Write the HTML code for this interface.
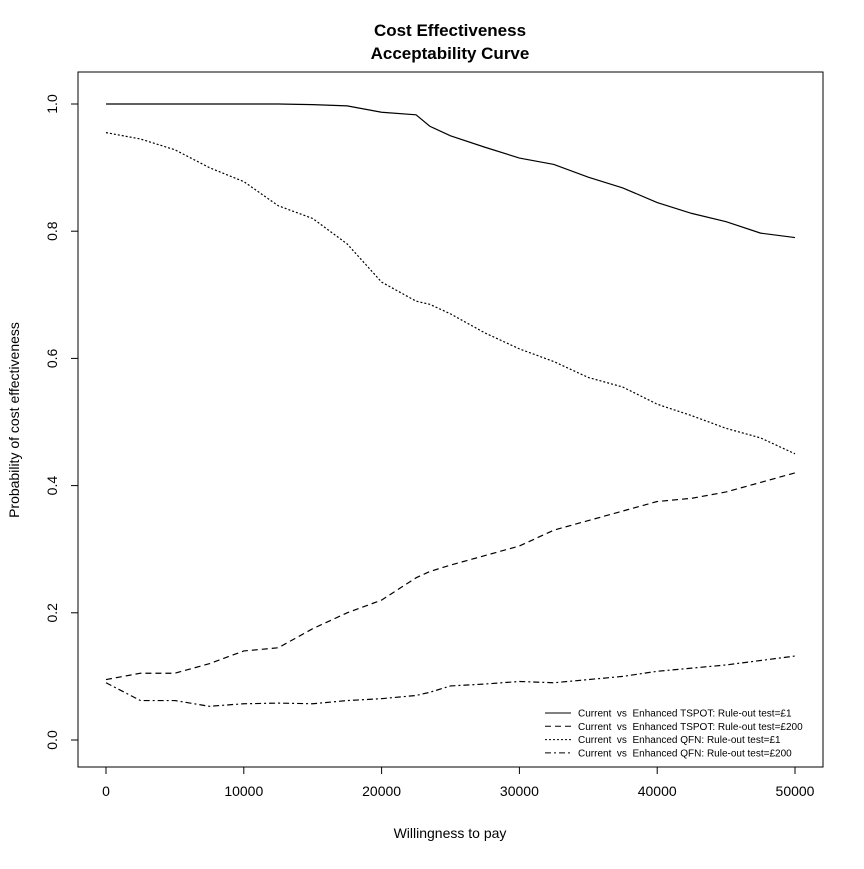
<!DOCTYPE html>
<html><head><meta charset="utf-8"><style>
body{margin:0;background:#fff}
svg text{font-family:"Liberation Sans",Arial,sans-serif;fill:#000}
</style></head><body>
<svg id="chart" width="864" height="864" viewBox="0 0 864 864">
<text x="450" y="36" font-size="17" font-weight="bold" text-anchor="middle">Cost Effectiveness</text>
<text x="450" y="59" font-size="17" font-weight="bold" text-anchor="middle">Acceptability Curve</text>
<rect x="78" y="72" width="745" height="695" fill="none" stroke="#000"/>
<text x="450" y="838" font-size="14" text-anchor="middle">Willingness to pay</text>
<text transform="translate(19,420) rotate(-90)" font-size="14" text-anchor="middle">Probability of cost effectiveness</text>
<g id="axes"></g>
<g id="series"></g>
<g id="legend"></g>
</svg>
<script>
const xTicks=[0,10000,20000,30000,40000,50000];
const yTicks=[0,0.2,0.4,0.6,0.8,1.0];
const wtp=[0,2500,5000,7500,10000,12500,15000,17500,20000,22500,23500,25000,27500,30000,32500,35000,37500,40000,42500,45000,47500,50000];
const tspot1=[1,1,1,1,1,1,0.999,0.997,0.987,0.983,0.965,0.95,0.932,0.915,0.905,0.885,0.868,0.845,0.828,0.815,0.797,0.79];
const tspot200=[0.095,0.105,0.105,0.12,0.14,0.145,0.175,0.2,0.22,0.255,0.265,0.275,0.29,0.305,0.33,0.345,0.36,0.375,0.38,0.39,0.405,0.42];
const qfn1=[0.955,0.945,0.928,0.9,0.878,0.84,0.82,0.78,0.72,0.69,0.685,0.67,0.64,0.615,0.595,0.57,0.555,0.528,0.51,0.49,0.475,0.45];
const qfn200=[0.09,0.062,0.062,0.053,0.057,0.058,0.057,0.062,0.065,0.07,0.075,0.085,0.088,0.092,0.09,0.095,0.1,0.108,0.113,0.118,0.125,0.132];
const seriesNames=["Current  vs  Enhanced TSPOT: Rule-out test=£1","Current  vs  Enhanced TSPOT: Rule-out test=£200","Current  vs  Enhanced QFN: Rule-out test=£1","Current  vs  Enhanced QFN: Rule-out test=£200"];
const NS="http://www.w3.org/2000/svg";
const X=v=>106+v*(795-106)/50000;
const Y=v=>740-v*636;
function mk(tag,attrs,parent){const e=document.createElementNS(NS,tag);for(const k in attrs)e.setAttribute(k,attrs[k]);parent.appendChild(e);return e;}
const axes=document.getElementById('axes');
mk('line',{x1:X(0),x2:X(50000),y1:767,y2:767,stroke:'#000'},axes);
xTicks.forEach(t=>{
 const l=mk('line',{x1:X(t),x2:X(t),y1:767,y2:774,stroke:'#000'},axes);
 
 
 const tx=mk('text',{x:X(t),y:796,'font-size':14,'text-anchor':'middle'},axes);tx.textContent=t;
 
 
});
mk('line',{x1:78,x2:78,y1:Y(0),y2:Y(1),stroke:'#000'},axes);
yTicks.forEach(t=>{
 const l=mk('line',{x1:71,x2:78,y1:Y(t),y2:Y(t),stroke:'#000'},axes);
 
 
 const tx=mk('text',{transform:`translate(57,${Y(t)}) rotate(-90)`,'font-size':14,'text-anchor':'middle'},axes);tx.textContent=t.toFixed(1);
 
 
});
const dashes=['','6,4','2,2','6,3,2,3'];
const data=[tspot1,tspot200,qfn1,qfn200];
const names=['tspot-1-line','tspot-200-line','qfn-1-line','qfn-200-line'];
const sg=document.getElementById('series');
data.forEach((d,i)=>{
 const pts=d.map((v,j)=>X(wtp[j])+','+Y(v)).join(' ');
 const p=mk('polyline',{points:pts,fill:'none',stroke:'#000','stroke-width':1.2,'stroke-dasharray':dashes[i]},sg);
 
 
});
const lg=document.getElementById('legend');
seriesNames.forEach((n,i)=>{
 const y=713+i*13.3;
 const l=mk('line',{x1:545,x2:571,y1:y,y2:y,stroke:'#000','stroke-dasharray':dashes[i]},lg);
 
 
 const t=mk('text',{x:578,y:y+3.5,'font-size':10,style:'white-space:pre'},lg);t.textContent=n;
 
 
});
</script>
</body></html>
